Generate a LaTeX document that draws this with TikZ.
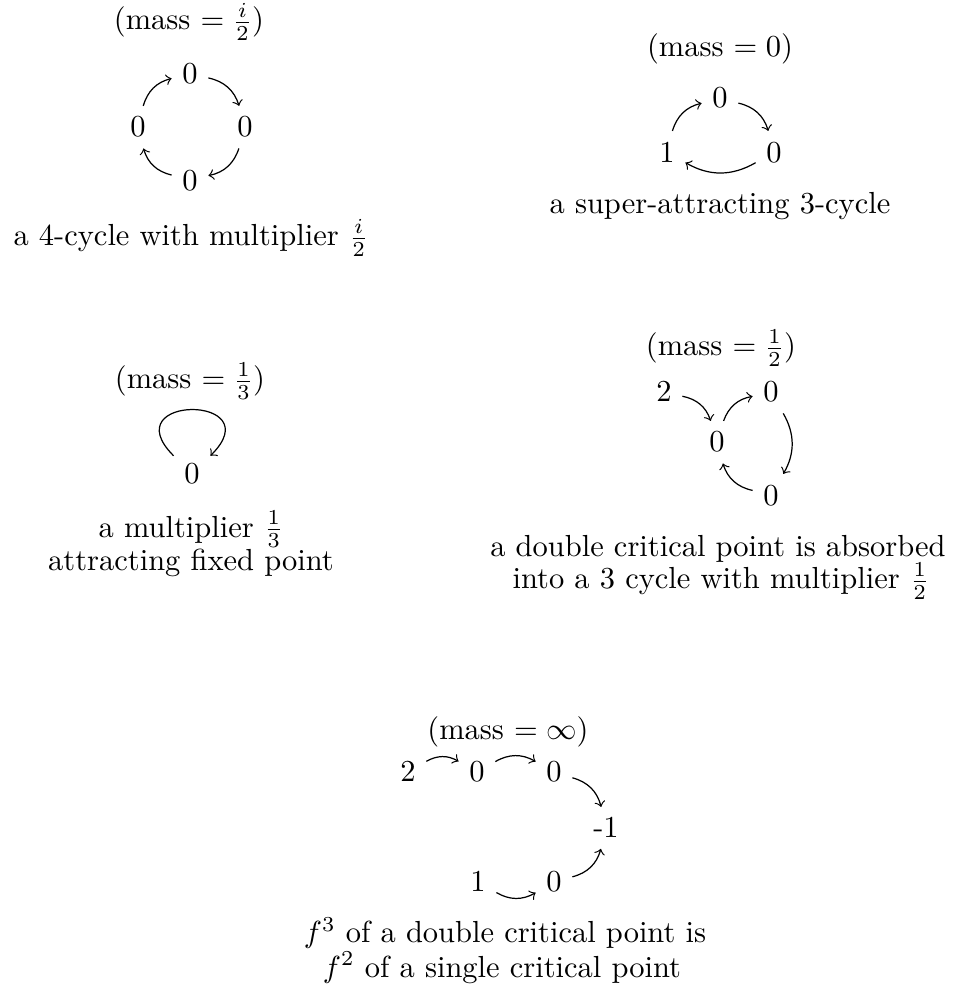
\documentclass[tikz,border=0pt]{standalone}
\begin{document}
\begin{tikzpicture}[x=0.328pt,y=0.328pt,
  arr/.style={->,line width=0.4pt},
  every node/.style={anchor=base},
  lbl/.style={inner sep=0pt,anchor=base},
  captext/.style={inner sep=0pt,anchor=base}]
\useasboundingbox (0,0) rectangle (957,985);
% Diagram 1
\node[lbl] (m1) at (189,955) {(mass $=\frac{i}{2}$)};
\node (a1) at (190,902) {0};
\node (a2) at (245,848) {0};
\node (a3) at (190,795) {0};
\node (a4) at (138,848) {0};
\node[captext] (c1) at (191,739) {a 4-cycle with multiplier $\frac{i}{2}$};
\draw[arr] (a1) to[bend left=30] (a2);
\draw[arr] (a2) to[bend left=30] (a3);
\draw[arr] (a3) to[bend left=30] (a4);
\draw[arr] (a4) to[bend left=30] (a1);
% Diagram 2
\node[lbl] (m2) at (720,929) {(mass $=0$)};
\node (b1) at (720,877) {0};
\node (b2) at (774,823) {0};
\node (b3) at (667,823) {1};
\node[captext] (c2) at (720,771) {a super-attracting 3-cycle};
\draw[arr] (b1) to[bend left=30] (b2);
\draw[arr] (b2) to[bend left=30] (b3);
\draw[arr] (b3) to[bend left=30] (b1);
% Diagram 3
\node[lbl] (m3) at (190,596) {(mass $=\frac{1}{3}$)};
\node (z) at (192,501) {0};
\node[captext] (c3a) at (191,448) {a multiplier $\frac{1}{3}$};
\node[captext] (c3b) at (191,414) {attracting fixed point};
\draw[arr] (z.135) .. controls +(135:87) and +(45:87) .. (z.45);
% Diagram 4
\node[lbl] (m4) at (721,629) {(mass $=\frac{1}{2}$)};
\node (d1) at (664,583) {2};
\node (d2) at (717,533) {0};
\node (d3) at (771,583) {0};
\node (d4) at (771,480) {0};
\node[captext] (c4a) at (718,428) {a double critical point is absorbed};
\node[captext] (c4b) at (721,396) {into a 3 cycle with multiplier $\frac{1}{2}$};
\draw[arr] (d1) to[bend left=30] (d2);
\draw[arr] (d2) to[bend left=30] (d3);
\draw[arr] (d3) to[bend left=30] (d4);
\draw[arr] (d4) to[bend left=30] (d2);
% Diagram 5
\node[lbl] (m5) at (508,246) {(mass $=\infty$)};
\node (e1) at (408,203) {2};
\node (e2) at (477,203) {0};
\node (e3) at (554,203) {0};
\node (e4) at (606,147) {-1};
\node (e5) at (478,93) {1};
\node (e6) at (554,93) {0};
\node[captext] (c5a) at (505,42) {$f^3$ of a double critical point is};
\node[captext] (c5b) at (502,8) {$f^2$ of a single critical point};
\draw[arr] (e1) to[bend left=30] (e2);
\draw[arr] (e2) to[bend left=30] (e3);
\draw[arr] (e3) to[bend left=30] (e4);
\draw[arr] (e5) to[bend right=30] (e6);
\draw[arr] (e6) to[bend right=30] (e4);
\end{tikzpicture}
\end{document}
